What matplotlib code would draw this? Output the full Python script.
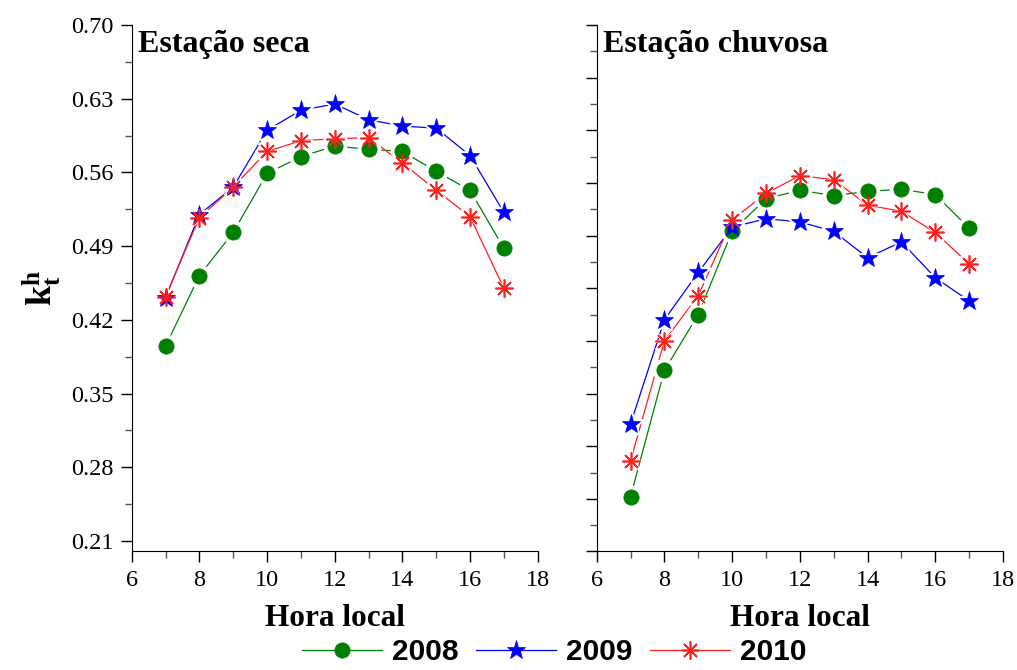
import matplotlib
matplotlib.use("Agg")
import matplotlib.pyplot as plt
from matplotlib.ticker import MultipleLocator, FixedLocator
from matplotlib.lines import Line2D

plt.rcParams["mathtext.fontset"] = "custom"
plt.rcParams["mathtext.rm"] = "Liberation Serif"
plt.rcParams["mathtext.bf"] = "Liberation Serif:bold"

hours = [7, 8, 9, 10, 11, 12, 13, 14, 15, 16, 17]

seca_2008 = [0.395, 0.462, 0.503, 0.559, 0.575, 0.585, 0.582, 0.580, 0.561, 0.543, 0.488]
seca_2009 = [0.441, 0.520, 0.546, 0.600, 0.619, 0.625, 0.610, 0.604, 0.602, 0.576, 0.522]
seca_2010 = [0.442, 0.517, 0.546, 0.580, 0.590, 0.592, 0.593, 0.569, 0.543, 0.518, 0.450]

chuv_2008 = [0.252, 0.372, 0.425, 0.504, 0.535, 0.543, 0.538, 0.542, 0.544, 0.539, 0.507]
chuv_2009 = [0.321, 0.420, 0.465, 0.508, 0.516, 0.513, 0.504, 0.479, 0.494, 0.460, 0.438]
chuv_2010 = [0.286, 0.400, 0.443, 0.515, 0.540, 0.557, 0.553, 0.529, 0.523, 0.503, 0.473]

years = ["2008", "2009", "2010"]
panel_titles = ["Estação seca", "Estação chuvosa"]
left_yticks = [0.21, 0.28, 0.35, 0.42, 0.49, 0.56, 0.63, 0.70]

colors = ["#008000", "#0000ff", "#ff2020"]
markers = ["o", "*", (8, 2, 0)]
msizes = [11, 14, 13]

serif = ["Liberation Serif", "DejaVu Serif"]
sans = ["Liberation Sans", "DejaVu Sans"]

fig = plt.figure(figsize=(10.17, 6.70), dpi=100)
ax1 = fig.add_axes([0.1295, 0.1769, 0.3992, 0.7858])
ax2 = fig.add_axes([0.5867, 0.1769, 0.3995, 0.7858])

data = [[seca_2008, seca_2009, seca_2010], [chuv_2008, chuv_2009, chuv_2010]]

for ax, series, title in zip([ax1, ax2], data, panel_titles):
    for vals, c, m, ms in zip(series, colors, markers, msizes):
        ax.plot(hours, vals, color=c, lw=0.9, zorder=2)
        ax.plot(hours, vals, ls="none", marker=m, ms=ms + 4, color="white",
                markeredgecolor="white", markeredgewidth=2, zorder=3)
        ax.plot(hours, vals, ls="none", marker=m, ms=ms, color=c,
                markeredgecolor=c, markeredgewidth=1.2 if m == markers[2] else 0.5,
                zorder=4)
    ax.set_xlim(6, 18)
    ax.set_ylim(0.20, 0.70)
    ax.spines["top"].set_visible(False)
    ax.spines["right"].set_visible(False)
    ax.xaxis.set_major_locator(MultipleLocator(2))
    ax.xaxis.set_minor_locator(MultipleLocator(1))
    ax.tick_params(axis="both", which="major", direction="out", length=8, width=1,
                   labelsize=17.5, colors="black", pad=5)
    ax.tick_params(axis="both", which="minor", direction="out", length=5, width=1,
                   color="#555555")
    for lab in ax.get_xticklabels():
        lab.set_fontfamily(serif)
    ax.set_xlabel("Hora local", fontfamily=serif, fontweight="bold", fontsize=22.5,
                  labelpad=10)
    ax.text(0.015, 0.99, title, transform=ax.transAxes, ha="left", va="top",
            fontfamily=serif, fontweight="bold", fontsize=23)

ax1.yaxis.set_major_locator(FixedLocator(left_yticks))
ax1.yaxis.set_minor_locator(FixedLocator([v + 0.035 for v in left_yticks[:-1]]))
ax1.set_yticklabels([f"{v:.2f}" for v in left_yticks], fontfamily=serif)
ax1.set_ylabel(r"$\mathbf{k_t^h}$", fontsize=26, labelpad=6)

ax2.yaxis.set_major_locator(MultipleLocator(0.05))
ax2.yaxis.set_minor_locator(MultipleLocator(0.025))
ax2.tick_params(axis="y", labelleft=False)

handles = [Line2D([0], [0], color=c, lw=0.9, marker=m, ms=ms,
                  markeredgecolor=c, markeredgewidth=1.2 if i == 2 else 0.5)
           for i, (c, m, ms) in enumerate(zip(colors, markers, msizes))]
fig.legend(handles, years, loc="lower center", bbox_to_anchor=(0.545, -0.03),
           ncol=3, frameon=False, handlelength=2.7, columnspacing=0.57,
           handletextpad=0.33, borderpad=0.3,
           prop={"family": sans, "weight": "bold", "size": 21.5})

fig.savefig("out.png", dpi=100)
